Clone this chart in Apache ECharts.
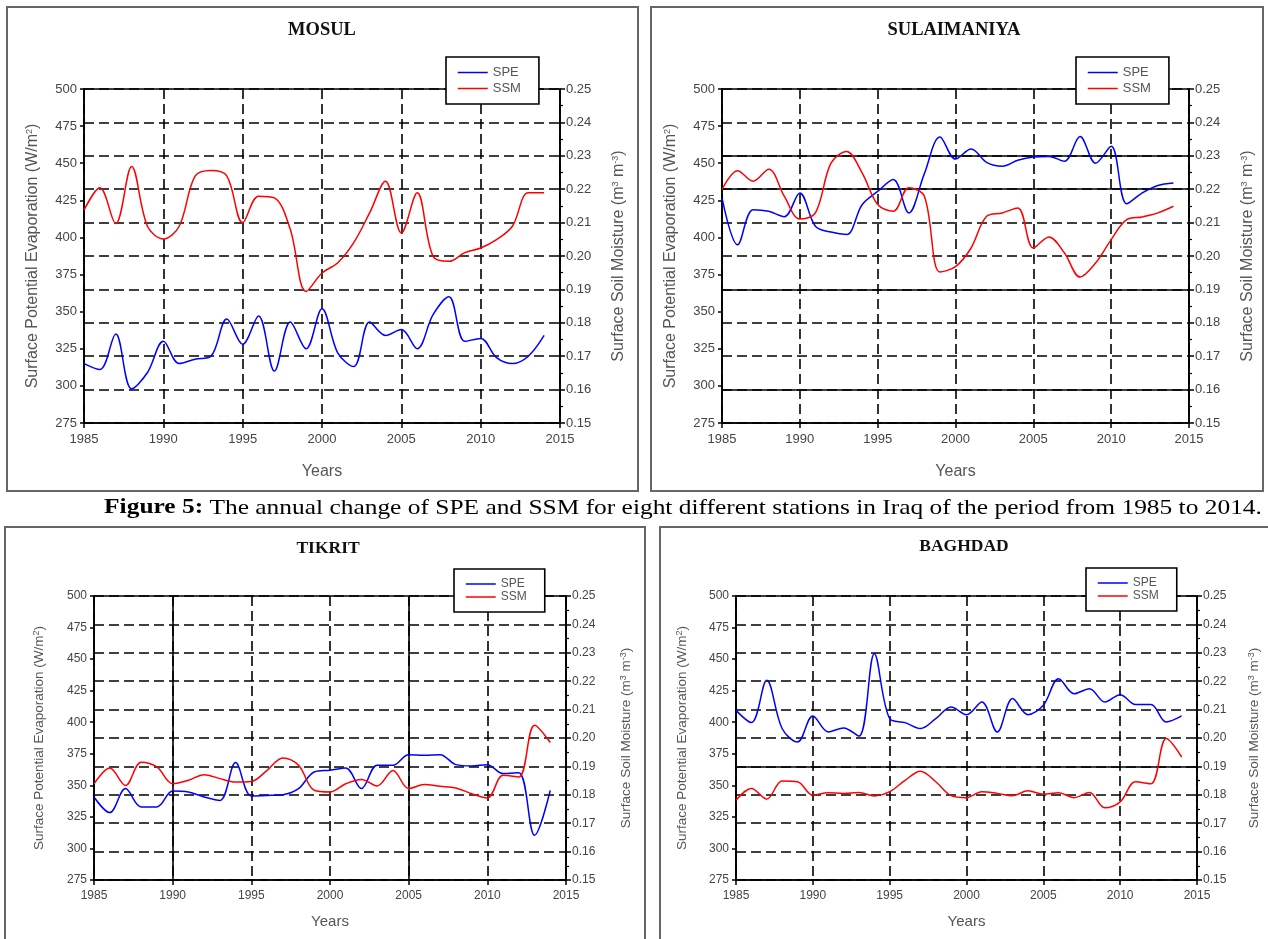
<!DOCTYPE html>
<html>
<head>
<meta charset="utf-8">
<script src="https://cdn.jsdelivr.net/npm/echarts@6/dist/echarts.min.js"></script>
<style>html,body{margin:0;padding:0;background:#fff}#c{width:1268px;height:939px}</style>
</head>
<body>
<div id="c"></div>
<script>
const YEARS = [1985,1986,1987,1988,1989,1990,1991,1992,1993,1994,1995,1996,1997,1998,1999,2000,2001,2002,2003,2004,2005,2006,2007,2008,2009,2010,2011,2012,2013,2014];

const STATIONS = ['MOSUL','SULAIMANIYA','TIKRIT','BAGHDAD'];
const SERIES_NAMES = ['SPE','SSM'];

const MOSUL_SPE = [315,311,335,298,309,330,315,318,320,345,328,347,310,343,325,352,322,313,343,334,338,325,348,360,330,332,319,315,320,334];
const MOSUL_SSM = [0.2137,0.2204,0.2097,0.2268,0.2089,0.2051,0.2089,0.2239,0.2256,0.2240,0.2100,0.2179,0.2174,0.2080,0.1894,0.1949,0.1980,0.2040,0.2129,0.2224,0.2069,0.2189,0.1999,0.1984,0.2010,0.2024,0.2049,0.2089,0.2189,0.2189];

const SUL_SPE = [426.6,395,418.7,417.6,414,430,407.5,403.6,402,422,431,439,416.5,443,467.7,452.8,459.6,450.6,448,452,454.2,454.6,451.3,468,450,461.4,422.7,430,435,436.7];
const SUL_SSM = [0.2199,0.2255,0.2224,0.2260,0.2179,0.2111,0.2129,0.2278,0.2313,0.2249,0.2154,0.2134,0.2204,0.2179,0.1952,0.1968,0.2024,0.2119,0.2129,0.2144,0.2024,0.2057,0.2009,0.1937,0.1979,0.2049,0.2109,0.2117,0.2129,0.2149];

const TIK_SPE = [340.8,328.4,347.4,332.9,332.9,345.5,344.7,340.8,338,368,341.6,342,342.6,347.4,360.6,362,363.7,347.4,366,366,374.3,373.8,374.3,366.4,365.3,366.4,359.3,360,310.4,346];
const TIK_SSM = [0.1839,0.1894,0.1833,0.1915,0.1898,0.1839,0.1851,0.1871,0.1857,0.1845,0.1847,0.1886,0.1930,0.1904,0.1816,0.1810,0.1839,0.1854,0.1831,0.1886,0.1822,0.1836,0.1830,0.1824,0.1804,0.1789,0.1869,0.1863,0.2045,0.1984];

const BAG_SPE = [409.4,399.7,433.2,395,384.3,405,392.3,395.5,389,454.3,402.8,399.7,395,402.8,412,406,416,392.3,418.7,406,413.4,434.5,422.6,426.6,416,421.8,414,414,400.2,405];
const BAG_SSM = [0.1781,0.1822,0.1785,0.1849,0.1846,0.1799,0.1807,0.1805,0.1808,0.1796,0.1811,0.1851,0.1883,0.1846,0.1797,0.1790,0.1811,0.1805,0.1797,0.1814,0.1802,0.1807,0.1790,0.1808,0.1754,0.1775,0.1846,0.1839,0.1998,0.1933];

const X_RANGE = [1985, 2015, 5];
const LEFT_RANGE = [275, 500, 25];
const RIGHT_RANGE = [0.15, 0.25, 0.01];

const SOLID_Y = [[], [0.23, 0.22, 0.19, 0.16], [], [0.19]];
const SOLID_X = [[], [], [1990, 2005], []];

const X_NAME = 'Years';
const LEFT_NAME = 'Surface Potential Evaporation (W/m{s|2})';
const RIGHT_NAME = 'Surface Soil Moisture (m{s|3} m{s|-3})';
const CAPTION_BOLD = 'Figure 5:';
const CAPTION_TEXT = ' The annual change of SPE and SSM for eight different stations in Iraq of the period from 1985 to 2014.';

const DATA = [[MOSUL_SPE, MOSUL_SSM],[SUL_SPE, SUL_SSM],[TIK_SPE, TIK_SSM],[BAG_SPE, BAG_SSM]];

// layout
const LAYOUT = [
  {grid:{left:84,top:89,width:476,height:334}, legend:{left:446,top:57}, gapL:43, gapR:51, gapX:41, lm:10, fs:13, nfs:16, xnfs:16, lfs:13, itemGap:3, title:[322,30], tfs:18.5, box:[7,7,631,484]},
  {grid:{left:722,top:89,width:467,height:334}, legend:{left:1076,top:57}, gapL:43, gapR:51, gapX:41, lm:10, fs:13, nfs:16, xnfs:16, lfs:13, itemGap:3, title:[954,30], tfs:18.5, box:[651,7,612,484]},
  {grid:{left:94,top:596,width:472,height:284}, legend:{left:454,top:569}, gapL:48, gapR:53, gapX:34, lm:10, fs:12, nfs:13.5, xnfs:15, lfs:12, itemGap:1, title:[328,548], tfs:17.5, box:[5,527,640,420]},
  {grid:{left:736,top:596,width:461,height:284}, legend:{left:1086,top:568}, gapL:47, gapR:50, gapX:34, lm:10, fs:12, nfs:13.5, xnfs:15, lfs:12, itemGap:1, title:[964,546], tfs:17.5, box:[660,527,620,420]}
];

const FONT = 'Liberation Sans';
const LABEL_COLOR = '#444';
const NAME_COLOR = '#555';
const dash = {type:[10,5], color:'#000', width:1.6};

const option = {
  animation:false,
  backgroundColor:'#fff',
  grid:[], xAxis:[], yAxis:[], series:[], legend:[], graphic:[]
};

LAYOUT.forEach((L, k) => {
  option.grid.push(Object.assign({show:true, borderColor:'#000', borderWidth:1.6, backgroundColor:'transparent'}, L.grid));
  option.xAxis.push({
    gridIndex:k, type:'value', min:X_RANGE[0], max:X_RANGE[1], interval:X_RANGE[2],
    axisLine:{show:true, onZero:false, lineStyle:{color:'#000', width:1.6}},
    axisTick:{show:true, length:5, lineStyle:{color:'#000', width:1.5}},
    axisLabel:{color:LABEL_COLOR, fontSize:L.fs, fontFamily:FONT, margin:L.lm, formatter:v=>String(v)},
    splitLine:{show:true, lineStyle:dash},
    name:X_NAME, nameLocation:'middle', nameGap:L.gapX,
    nameTextStyle:{color:NAME_COLOR, fontSize:L.xnfs, fontFamily:FONT}
  });
  option.yAxis.push({
    gridIndex:k, type:'value', position:'left', min:LEFT_RANGE[0], max:LEFT_RANGE[1], interval:LEFT_RANGE[2],
    axisLine:{show:true, lineStyle:{color:'#000', width:1.6}},
    axisTick:{show:true, length:4, lineStyle:{color:'#000', width:1.5}},
    axisLabel:{color:LABEL_COLOR, fontSize:L.fs, fontFamily:FONT, margin:7},
    splitLine:{show:false},
    name:LEFT_NAME, nameLocation:'middle', nameRotate:90, nameGap:L.gapL,
    nameTextStyle:{color:NAME_COLOR, fontSize:L.nfs, fontFamily:FONT,
      rich:{s:{fontSize:9, color:NAME_COLOR, fontFamily:FONT, verticalAlign:'top'}}}
  });
  option.yAxis.push({
    gridIndex:k, type:'value', position:'right', min:RIGHT_RANGE[0], max:RIGHT_RANGE[1], interval:RIGHT_RANGE[2],
    axisLine:{show:true, lineStyle:{color:'#000', width:1.6}},
    axisTick:{show:true, length:5, lineStyle:{color:'#000', width:1.5}},
    minorTick:{show:true, splitNumber:2, length:3, lineStyle:{color:'#000', width:1.2}},
    axisLabel:{color:LABEL_COLOR, fontSize:L.fs, fontFamily:FONT, margin:6, formatter:v=>v.toFixed(2)},
    splitLine:{show:true, lineStyle:dash},
    name:RIGHT_NAME, nameLocation:'middle', nameRotate:90, nameGap:L.gapR,
    nameTextStyle:{color:NAME_COLOR, fontSize:L.nfs, fontFamily:FONT,
      rich:{s:{fontSize:9, color:NAME_COLOR, fontFamily:FONT, verticalAlign:'top'}}}
  });
  const [spe, ssm] = DATA[k];
  const markData = SOLID_Y[k].map(v=>({yAxis:v})).concat(SOLID_X[k].map(v=>({xAxis:v})));
  option.series.push({
    name:SERIES_NAMES[0], type:'line', xAxisIndex:k, yAxisIndex:2*k,
    data:YEARS.map((y,i)=>[y, spe[i]]), smooth:0.35, symbol:'none',
    lineStyle:{color:'#0000ff', width:1.5}, itemStyle:{color:'#0000ff'}, z:3
  });
  option.series.push({
    name:SERIES_NAMES[1], type:'line', xAxisIndex:k, yAxisIndex:2*k+1,
    data:YEARS.map((y,i)=>[y, ssm[i]]), smooth:0.35, symbol:'none',
    lineStyle:{color:'#ff0000', width:1.5}, itemStyle:{color:'#ff0000'}, z:3,
    markLine: markData.length ? {silent:true, symbol:'none', label:{show:false},
      lineStyle:{color:'#000', width:1.6, type:'solid'}, data:markData, z:1} : undefined
  });
  option.legend.push({
    left:L.legend.left, top:L.legend.top, orient:'vertical', data:SERIES_NAMES,
    itemWidth:30, itemHeight:12, itemGap:L.itemGap, padding:[9,18,9,11],
    borderColor:'#000', borderWidth:1.6, backgroundColor:'#fff',
    itemStyle:{opacity:0}, lineStyle:{width:1.5},
    textStyle:{color:NAME_COLOR, fontSize:L.lfs, fontFamily:FONT}, selectedMode:false
  });
  option.graphic.push({
    type:'rect', shape:{x:L.box[0], y:L.box[1], width:L.box[2], height:L.box[3]},
    style:{fill:'none', stroke:'#666', lineWidth:2}, z:-10, silent:true
  });
  option.graphic.push({
    type:'text', x:L.title[0], y:L.title[1],
    style:{text:STATIONS[k], font:'bold '+L.tfs+'px "Liberation Serif"', fill:'#111', align:'center', verticalAlign:'middle'}
  });
});

option.graphic.push({
  type:'text', x:683, y:508, scaleX:1.21,
  style:{text:'{b|'+CAPTION_BOLD+'}'+CAPTION_TEXT, font:'21px "Liberation Serif"', fill:'#000', align:'center', verticalAlign:'middle',
    rich:{b:{font:'bold 21px "Liberation Serif"', fill:'#000'}}}
});

const chart = echarts.init(document.getElementById('c'), null, {renderer:'canvas'});
chart.setOption(option);
</script>
</body>
</html>
